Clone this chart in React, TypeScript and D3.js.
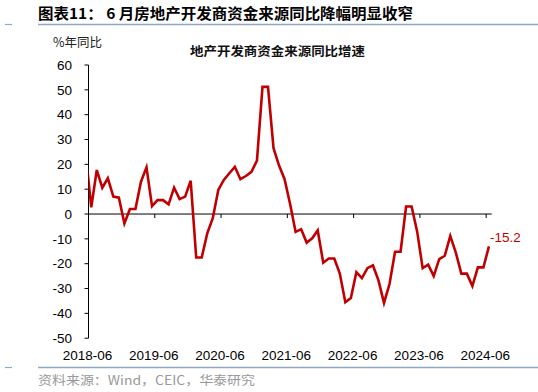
import React from "react";
import * as d3 from "d3";

// 月度数据：2018-05 至 2024-06（首点在坐标轴外，被裁剪）
const startMonth = "2018-05";
const values: number[] = [
  24, 2.7, 17.7, 10.6, 14.4, 7, 6.6, -3.8,
  2, 2, 13, 18.8, 3.2, 5.6, 5.6, 3.9, 10.6, 6, 7, 13.4,
  -17.5, -17.5, -7.8, -1.7, 9.7, 13.7, 16.4, 19, 14, 15.3, 17, 21.5,
  51.2, 51.2, 26.5, 19.5, 14, 4, -7.2, -6.1, -11.5, -9.8, -6.6, -19.6,
  -17.9, -17.9, -24, -35.5, -33.8, -23.4, -25.8, -21.8, -20.7, -26.7, -35.8, -28.2,
  -15.2, -15.2, 3, 3, -7, -21.8, -20.4, -25, -18.2, -16.8, -8.8, -15.5,
  -24, -24, -29, -21.5, -21.5, -13,
];
const yTicks: number[] = [60, 50, 40, 30, 20, 10, 0, -10, -20, -30, -40, -50];
const xTickLabels: string[] = ["2018-06", "2019-06", "2020-06", "2021-06", "2022-06", "2023-06", "2024-06"];
const lastLabel = "-15.2";
const titleText = "图表11： 6 月房地产开发商资金来源同比降幅明显收窄";
const chartTitle = "地产开发商资金来源同比增速";
const unitText = "%年同比";
const sourceText = "资料来源：Wind，CEIC，华泰研究";

const W = 538;
const H = 392;
const left = 88.5;
const right = 491.7;
const top = 65;
const bottom = 338.2;

const RED = "#C00000";
const BLUE = "#8EA8C8";
const LATIN = "'Liberation Sans', Arial, sans-serif";
const CJK = "'Noto Sans CJK SC', 'Liberation Sans', sans-serif";

export default function App() {
  const start = d3.timeParse("%Y-%m")(startMonth)!;
  const fmt = d3.timeFormat("%Y-%m");
  const months: string[] = values.map((_, i) => fmt(d3.timeMonth.offset(start, i)));
  // index 0 = 2018-06 category
  const firstIdx = months.indexOf("2018-06");
  const nCats = months.length - firstIdx;
  const x = d3.scaleLinear().domain([0, nCats]).range([left, right]);
  const y = d3.scaleLinear().domain([-50, 60]).range([bottom, top]);

  const pts = values.map((v, i) => ({ xi: i - firstIdx + 0.5, v }));
  const line = d3
    .line<{ xi: number; v: number }>()
    .x((d) => x(d.xi))
    .y((d) => y(d.v));

  const tickPos = xTickLabels.map((lab) => ({ lab, xi: months.indexOf(lab) - firstIdx }));
  const last = pts[pts.length - 1];

  return (
    <svg width={W} height={H} style={{ position: "absolute", left: 0, top: 0, background: "#fff" }}>
      <defs>
        <clipPath id="plotclip">
          <rect x={left} y={0} width={W - left} height={H} />
        </clipPath>
      </defs>
      {/* header */}
      <text x={38} y={19} fontFamily={CJK} fontWeight="bold" fontSize={15} fill="#000" textLength={375} lengthAdjust="spacingAndGlyphs">
        {titleText}
      </text>
      <line x1={5} x2={12} y1={24.5} y2={24.5} stroke={BLUE} strokeWidth={1.2} />
      <line x1={38} x2={538} y1={24.5} y2={24.5} stroke={BLUE} strokeWidth={1.5} />
      <text x={53} y={47} fontFamily={CJK} fontSize={12.5} fill="#222">
        {unitText}
      </text>
      <text x={277.5} y={56} textAnchor="middle" fontFamily={CJK} fontWeight="bold" fontSize={12.5} fill="#111" textLength={175} lengthAdjust="spacingAndGlyphs">
        {chartTitle}
      </text>

      {/* y axis */}
      <line x1={left} x2={left} y1={top} y2={bottom} stroke="#000" strokeWidth={1} />
      {yTicks.map((t) => (
        <g key={t}>
          <line x1={left - 4} x2={left} y1={y(t)} y2={y(t)} stroke="#000" strokeWidth={1} />
          <text x={72} y={y(t)} dy="0.35em" textAnchor="end" fontFamily={LATIN} fontSize={13.5} fill="#000">
            {t}
          </text>
        </g>
      ))}

      {/* x axis at zero */}
      <line x1={left} x2={right} y1={y(0)} y2={y(0)} stroke="#000" strokeWidth={1} />
      {tickPos.map((t) => (
        <g key={t.lab}>
          <line x1={x(t.xi)} x2={x(t.xi)} y1={y(0)} y2={y(0) + 4} stroke="#000" strokeWidth={1} />
          <text x={x(t.xi) - 1} y={355} dy="0.35em" textAnchor="middle" fontFamily={LATIN} fontSize={13.5} fill="#000">
            {t.lab}
          </text>
        </g>
      ))}

      {/* series */}
      <path d={line(pts) || ""} fill="none" stroke={RED} strokeWidth={2.6} strokeLinejoin="miter" clipPath="url(#plotclip)" />
      <text x={x(last.xi) + 1} y={237} dy="0.35em" fontFamily={LATIN} fontSize={13.5} fill={RED}>
        {lastLabel}
      </text>

      {/* footer */}
      <line x1={5} x2={12} y1={367.5} y2={367.5} stroke={BLUE} strokeWidth={1.2} />
      <line x1={38} x2={538} y1={367.5} y2={367.5} stroke={BLUE} strokeWidth={1.5} />
      <text x={38} y={385} fontFamily={CJK} fontSize={12.5} fill="#999" textLength={217} lengthAdjust="spacingAndGlyphs">
        {sourceText}
      </text>
    </svg>
  );
}
